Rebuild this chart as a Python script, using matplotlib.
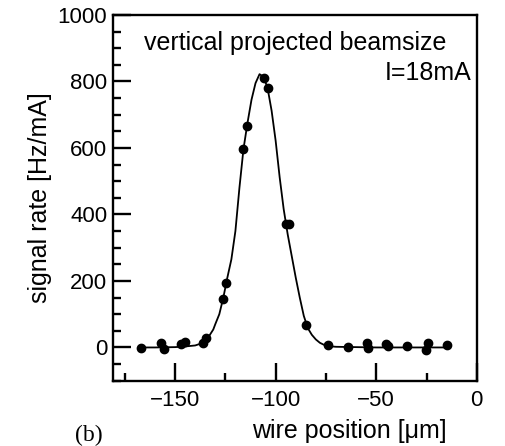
import matplotlib
matplotlib.use("Agg")
import matplotlib.pyplot as plt
from matplotlib.ticker import MultipleLocator

plt.rcParams['font.family'] = ['Liberation Sans', 'DejaVu Sans']

# measured points (wire position in um, signal rate in Hz/mA)
pos = [-167, -157, -155.3, -147, -145, -136, -134.5, -126.2, -124.5, -116, -114.3,
       -106, -104, -94.8, -93.5, -85, -74, -64, -54.6, -54, -45, -44, -34.5,
       -24.5, -25.5, -15]
rate = [-3, 12, -6, 9, 16, 14, 29, 147, 195, 596, 667,
        810, 779, 370, 370, 69, 6, 2, 12, -1, 9, 3, 5,
        12, -8, 6]

# fitted curve
fit_pos = [-167, -160, -150, -145, -140, -137, -135, -133, -131, -130, -128, -126,
           -124, -122, -120, -118, -116, -114, -112, -110, -108, -106, -104,
           -102, -100, -98, -96, -94, -92, -90, -88, -86, -84, -82, -80,
           -78, -76, -74, -72, -70, -60, -50, -40, -30, -20, -15]
fit_rate = [0, 0, 1, 3, 6, 12, 22, 35, 54, 70, 100, 150,
            210, 265, 350, 480, 596, 675, 745, 795, 822, 814, 780,
            712, 622, 512, 416, 340, 275, 210, 150, 95, 58, 38, 24,
            14, 8, 5, 3, 2, 1, 0, 0, 0, 0, 0]

fig = plt.figure(figsize=(5.06, 4.46), dpi=100)
ax = fig.add_axes([0.2227, 0.1464, 0.7196, 0.82])

ax.plot(fit_pos, fit_rate, '-', color='black', lw=1.3)
ax.plot(pos, rate, 'o', color='black', ms=6)

ax.set_xlim(-181, 0)
ax.set_ylim(-100, 1000)
ax.xaxis.set_major_locator(MultipleLocator(50))
ax.xaxis.set_minor_locator(MultipleLocator(25))
ax.yaxis.set_major_locator(MultipleLocator(200))
ax.yaxis.set_minor_locator(MultipleLocator(50))
ax.tick_params(which='both', direction='in', top=False, right=False,
               width=1.7, labelsize=16)
ax.tick_params(axis='x', pad=7)
ax.tick_params(axis='y', pad=4)
ax.tick_params(which='major', length=13)
ax.tick_params(which='minor', length=6)
for s in ax.spines.values():
    s.set_linewidth(1.7)

ax.set_xlabel('wire position [μm]', fontsize=18, labelpad=8)
ax.xaxis.set_label_coords(0.65, -0.105)
ax.set_ylabel('signal rate [Hz/mA]', fontsize=18, labelpad=4)

ax.text(0.5, 0.905, 'vertical projected beamsize', transform=ax.transAxes,
        ha='center', va='baseline', fontsize=18)
ax.text(0.985, 0.823, 'I=18mA', transform=ax.transAxes,
        ha='right', va='baseline', fontsize=18)
fig.text(0.148, 0.012, '(b)', family='Liberation Serif', fontsize=17)

fig.savefig('out.png', dpi=100)
